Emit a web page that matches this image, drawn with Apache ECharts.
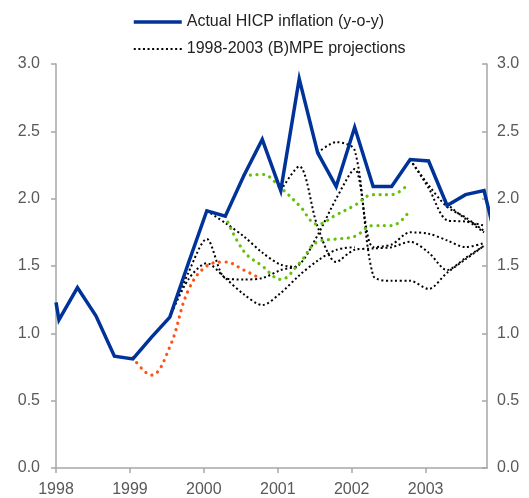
<!DOCTYPE html>
<html>
<head>
<meta charset="utf-8">
<script src="https://cdn.jsdelivr.net/npm/echarts@6/dist/echarts.min.js"></script>
<style>
html, body { margin: 0; padding: 0; background: #fff; }
#chart { width: 529px; height: 498px; }
</style>
</head>
<body>
<div id="chart"></div>
<script>
// 数据
var years = [1998, 1999, 2000, 2001, 2002, 2003];

var actual = [[1998.0,1.23],[1998.04,1.10],[1998.29,1.34],[1998.54,1.13],[1998.79,0.83],[1999.04,0.81],
    [1999.29,0.97],[1999.54,1.12],[1999.79,1.52],[2000.04,1.91],[2000.29,1.87],[2000.54,2.17],
    [2000.79,2.44],[2001.04,2.06],[2001.29,2.89],[2001.54,2.34],[2001.79,2.09],[2002.04,2.53],
    [2002.29,2.09],[2002.54,2.09],[2002.79,2.29],[2003.04,2.28],[2003.29,1.95],[2003.54,2.03],
    [2003.79,2.06],[2004.04,1.50]];

var projOrange = [[1999.04,0.82],[1999.29,0.69],[1999.54,0.90],[1999.79,1.32],[2000.04,1.50],
    [2000.29,1.53],[2000.54,1.47],[2000.72,1.42]];

var projGreen1 = [[2000.54,2.17],[2000.79,2.18],[2001.04,2.08],[2001.29,1.95],[2001.54,1.81],
    [2001.79,1.88],[2002.04,1.95],[2002.29,2.03],[2002.54,2.03],[2002.75,2.10]];
var projGreen2 = [[2000.29,1.87],[2000.54,1.61],[2000.79,1.50],[2001.04,1.40],[2001.29,1.52],
    [2001.54,1.68],[2001.79,1.70],[2002.04,1.72],[2002.29,1.80],[2002.54,1.80],[2002.75,1.885]];

var projA = [[2000.04,1.91],[2000.29,1.82],[2000.54,1.72],[2000.79,1.60],[2001.04,1.51],[2001.29,1.49]];
var projC = [[1999.54,1.12],[1999.79,1.45],[2000.04,1.70],[2000.29,1.41],[2000.54,1.40],[2000.79,1.41],
    [2001.04,1.47],[2001.29,1.51],[2001.54,1.73],[2001.79,2.00],[2002.04,2.22],[2002.29,1.64],
    [2002.54,1.66],[2002.79,1.75],[2003.04,1.74],[2003.29,1.69],[2003.54,1.64],[2003.79,1.67]];
var projD = [[1999.54,1.12],[1999.79,1.40],[2000.04,1.52],[2000.29,1.41],[2000.54,1.29],[2000.79,1.21],
    [2001.04,1.30],[2001.29,1.43],[2001.54,1.54],[2001.79,1.62],[2002.04,1.64]];
var projE = [[2001.04,2.06],[2001.29,2.24],[2001.54,1.79],[2001.79,1.53],[2002.04,1.62],[2002.29,1.63],
    [2002.54,1.64],[2002.79,1.68],[2003.04,1.60],[2003.29,1.47],[2003.54,1.56],[2003.79,1.65]];
var projF = [[2001.54,2.34],[2001.79,2.42],[2002.04,2.36],[2002.29,1.43],[2002.54,1.39],[2002.79,1.39],
    [2003.04,1.33],[2003.29,1.45],[2003.54,1.55],[2003.79,1.65]];
var projS = [[2002.79,2.29],[2003.04,2.08],[2003.29,1.84],[2003.54,1.83],[2003.79,1.80]];
var projT = [[2002.79,2.29],[2003.04,2.10],[2003.29,1.94],[2003.54,1.86],[2003.79,1.76]];
var projU = [[2003.04,2.28],[2003.29,1.97],[2003.54,1.85],[2003.79,1.75]];

var blackProj = [projA, projC, projD, projE, projF, projS, projT, projU];

var nameActual = 'Actual HICP inflation (y-o-y)';
var nameProj = '1998-2003 (B)MPE projections';

var font = 'Liberation Sans, Arial, sans-serif';
var axisGrey = '#a6a6a6';
var labelGrey = '#595959';

var series = [];
blackProj.forEach(function (d) {
    series.push({
        name: nameProj,
        type: 'line',
        data: d,
        symbol: 'none',
        smooth: 0.3,
        itemStyle: { color: '#000' },
        lineStyle: { color: '#000', width: 2, type: [2, 2.6] }
    });
});
series.push({
    name: 'orange',
    type: 'line',
    data: projOrange,
    symbol: 'none',
    smooth: 0.4,
    itemStyle: { color: '#ff5219' },
    lineStyle: { color: '#ff5219', width: 3.2, type: [0.1, 6.5], cap: 'round' }
});
[projGreen1, projGreen2].forEach(function (d) {
    series.push({
        name: 'green',
        type: 'line',
        data: d,
        symbol: 'none',
        smooth: 0.4,
        itemStyle: { color: '#66c10a' },
        lineStyle: { color: '#66c10a', width: 3.2, type: [0.1, 6.5], cap: 'round' }
    });
});
series.push({
    name: nameActual,
    type: 'line',
    data: actual,
    symbol: 'none',
    z: 5,
    itemStyle: { color: '#003399' },
    lineStyle: { color: '#003399', width: 3.5, join: 'miter' }
});

function yAxisCfg(pos) {
    return {
        type: 'value',
        position: pos,
        min: 0,
        max: 3,
        interval: 0.5,
        axisLine: { show: true, lineStyle: { color: axisGrey, width: 1.5 } },
        axisTick: { show: true, inside: pos === 'right', length: 5, lineStyle: { color: axisGrey, width: 1.5 } },
        axisLabel: {
            color: labelGrey, fontSize: 16, fontFamily: font,
            margin: pos === 'right' ? 10 : 16,
            formatter: function (v) { return v.toFixed(1); }
        },
        splitLine: { show: false }
    };
}

var option = {
    animation: false,
    legend: {
        orient: 'vertical',
        left: 132,
        top: 14,
        padding: 0,
        itemWidth: 48,
        itemHeight: 14,
        itemGap: 11,
        itemStyle: { opacity: 0 },
        textStyle: { color: '#222', fontSize: 16, fontFamily: font },
        data: [
            { name: nameActual, lineStyle: { width: 3.5 } },
            { name: nameProj }
        ]
    },
    grid: { left: 56, right: 42, top: 64, bottom: 30 },
    xAxis: {
        type: 'value',
        min: 1998,
        max: 2003.83,
        interval: 1,
        axisLine: { show: true, lineStyle: { color: axisGrey, width: 1.5 } },
        axisTick: { show: true, length: 5, customValues: years, lineStyle: { color: axisGrey, width: 1.5 } },
        axisLabel: {
            color: labelGrey, fontSize: 16, fontFamily: font, margin: 14,
            customValues: years,
            formatter: function (v) { return String(Math.round(v)); }
        },
        splitLine: { show: false }
    },
    yAxis: [yAxisCfg('left'), yAxisCfg('right')],
    series: series
};

var myChart = echarts.init(document.getElementById('chart'));
myChart.setOption(option);
</script>
</body>
</html>
